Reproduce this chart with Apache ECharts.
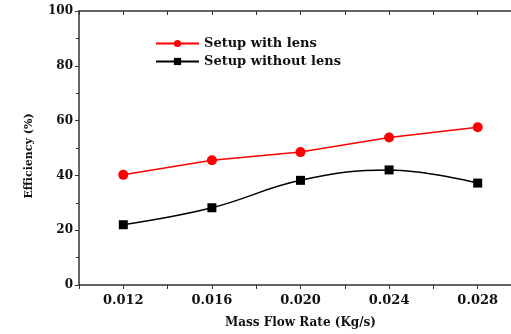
<!DOCTYPE html>
<html>
<head>
<meta charset="utf-8">
<script src="https://cdn.jsdelivr.net/npm/echarts@6/dist/echarts.min.js"></script>
<style>
  html,body{margin:0;padding:0;background:#fff;overflow:hidden;}
  #main{width:511px;height:334px;}
</style>
</head>
<body>
<div id="main"></div>
<script>
// mass flow rate (kg/s) and efficiency (%)
var flowRates = [0.012, 0.016, 0.020, 0.024, 0.028];
var withLens = [40.2, 45.5, 48.5, 53.8, 57.6];
var withoutLens = [22.0, 28.2, 38.2, 42.0, 37.2];
var seriesNames = ['Setup with lens', 'Setup without lens'];

var font = '"DejaVu Serif", "Liberation Serif", serif';

function pairs(xs, ys){
  var out = [];
  for (var i = 0; i < xs.length; i++) out.push([xs[i], ys[i]]);
  return out;
}

var myChart = echarts.init(document.getElementById('main'));
var axisCol = '#333';
var option = {
  animation: false,
  grid: { left: 79, width: 443, top: 11, height: 274, outerBoundsMode: 'none' },
  legend: {
    left: 150, top: 32, orient: 'vertical',
    itemWidth: 43, itemHeight: 9, itemGap: 5,
    textStyle: { fontFamily: font, fontWeight: 'bold', fontSize: 13, color: '#111' },
    data: seriesNames
  },
  xAxis: [{
    type: 'value', min: 0.010, max: 0.030, interval: 0.002,
    name: 'Mass Flow Rate (Kg/s)', nameLocation: 'middle', nameGap: 32,
    nameTextStyle: { fontFamily: font, fontWeight: 'bold', fontSize: 12, color: '#111' },
    axisLine: { lineStyle: { color: axisCol, width: 1.5 } },
    axisTick: { length: 4, lineStyle: { color: axisCol } },
    splitLine: { show: false },
    axisLabel: {
      fontFamily: font, fontWeight: 'bold', fontSize: 13, color: '#111', margin: 9,
      formatter: function(v){
        return Math.round(v * 1000) % 4 === 0 ? v.toFixed(3) : '';
      }
    }
  }, {
    type: 'value', position: 'top', min: 0.010, max: 0.030, interval: 0.002,
    axisLine: { show: true, lineStyle: { color: axisCol, width: 1.5 } },
    axisTick: { inside: true, length: 4, lineStyle: { color: axisCol } },
    axisLabel: { show: false },
    splitLine: { show: false }
  }],
  yAxis: {
    type: 'value', min: 0, max: 100, interval: 20,
    name: 'Efficiency (%)', nameLocation: 'middle', nameGap: 44,
    nameTextStyle: { fontFamily: font, fontWeight: 'bold', fontSize: 11, color: '#111', padding: [0, 16, 0, 0] },
    axisLine: { show: true, lineStyle: { color: axisCol, width: 1.5 } },
    axisTick: { length: 4, lineStyle: { color: axisCol } },
    minorTick: { show: true, splitNumber: 2, length: 3, lineStyle: { color: axisCol } },
    splitLine: { show: false },
    axisLabel: { fontFamily: font, fontWeight: 'bold', fontSize: 12, color: '#111', margin: 6 }
  },
  series: [{
    name: seriesNames[0], type: 'line',
    data: pairs(flowRates, withLens),
    symbol: 'circle', symbolSize: 10,
    itemStyle: { color: '#ff0000' },
    lineStyle: { color: '#ff0000', width: 1.5 }
  }, {
    name: seriesNames[1], type: 'line',
    data: pairs(flowRates, withoutLens),
    smooth: 0.4,
    symbol: 'rect', symbolSize: 9,
    itemStyle: { color: '#000' },
    lineStyle: { color: '#000', width: 1.5 }
  }]
};
myChart.setOption(option);
</script>
</body>
</html>
